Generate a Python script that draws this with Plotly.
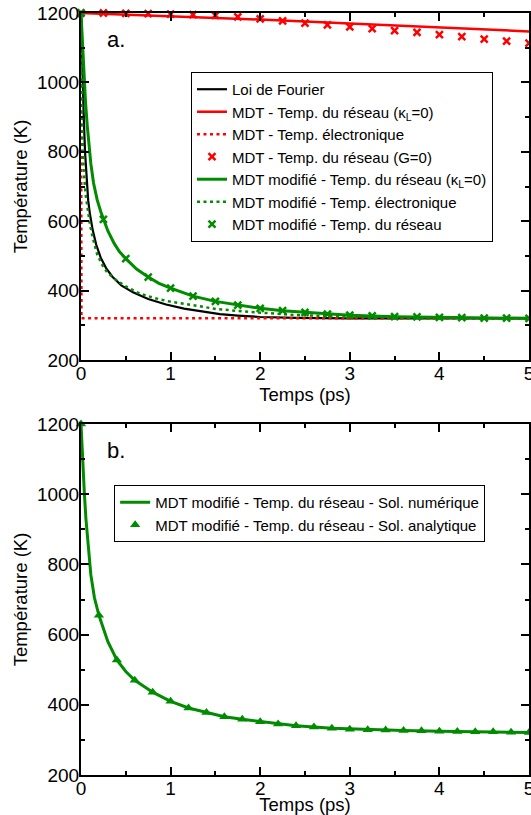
import plotly.graph_objects as go

# ---------------- Panel a data ----------------
t_fourier = [0, 0.01, 0.02, 0.03, 0.045, 0.06, 0.08, 0.1, 0.13, 0.17, 0.22, 0.28, 0.35, 0.45,
             0.58, 0.75, 0.95, 1.15, 1.35, 1.55, 1.75, 2.0, 2.4, 3.0, 4.0, 5.0]
T_fourier = [1200, 1090, 990, 905, 800, 725, 660, 620, 575, 532, 495, 465, 440, 415,
             395, 376, 360, 348, 339, 332, 328, 324, 321.5, 320, 320, 320]

t_mdt_lat = [0, 1, 2, 3, 4, 5]
T_mdt_lat = [1200, 1191, 1181, 1170, 1158, 1147]

t_mdt_el = [0, 0.005, 5]
T_mdt_el = [1200, 320, 320]

t_mark = [0, 0.25, 0.5, 0.75, 1.0, 1.25, 1.5, 1.75, 2.0, 2.25, 2.5, 2.75, 3.0, 3.25, 3.5, 3.75,
          4.0, 4.25, 4.5, 4.75, 5.0]
T_mdt_G0 = [1200, 1200, 1199, 1198, 1197, 1195, 1193, 1189, 1183, 1177, 1171, 1166, 1160, 1155,
            1149, 1144, 1138, 1132, 1125, 1119, 1113]

t_mod_lat = [0, 0.01, 0.02, 0.035, 0.05, 0.07, 0.09, 0.11, 0.14, 0.18, 0.22, 0.25, 0.3, 0.37,
             0.43, 0.5, 0.62, 0.75, 0.87, 1.0, 1.25, 1.5, 1.75, 2.0, 2.25, 2.5, 2.75, 3.0,
             3.5, 4.0, 4.5, 5.0]
T_mod_lat = [1200, 1140, 1085, 1010, 945, 875, 815, 765, 710, 662, 628, 605, 572, 536,
             512, 492, 462, 439, 421, 407, 384, 369, 358, 349, 342, 337, 332, 329,
             325, 323, 321, 320]

t_mod_el = [0, 0.005, 0.012, 0.02, 0.03, 0.05, 0.074, 0.1, 0.13, 0.18, 0.23, 0.29, 0.4, 0.5,
            0.66, 0.8, 0.96, 1.25, 1.51, 1.81, 2.07, 2.37, 2.7, 3.0, 3.5, 4.0, 4.5, 5.0]
T_mod_el = [1200, 1000, 900, 820, 750, 680, 632, 590, 554, 505, 477, 453, 429, 412,
            391, 380, 370, 357, 347, 340, 335, 330, 327, 325, 322, 321, 320, 320]

T_mod_mark = [1200, 605, 492, 439, 407, 384, 369, 358, 349, 342, 337, 332, 329, 327, 325, 324,
              323, 322, 321, 321, 320]

# ---------------- Panel b data ----------------
t_num = [0, 0.01, 0.02, 0.037, 0.055, 0.075, 0.11, 0.15, 0.2, 0.3, 0.4, 0.5, 0.6, 0.8, 1.0,
         1.2, 1.4, 1.6, 1.8, 2.0, 2.4, 2.8, 3.2, 3.6, 4.0, 4.5, 5.0]
T_num = [1200, 1140, 1085, 1005, 930, 862, 770, 705, 655, 580, 528, 495, 470, 436, 410,
         391, 378, 366, 359, 352, 340, 333, 329, 327, 325, 323, 321]

t_ana = [0, 0.2, 0.4, 0.6, 0.8, 1.0, 1.2, 1.4, 1.6, 1.8, 2.0, 2.2, 2.4, 2.6, 2.8, 3.0, 3.2,
         3.4, 3.6, 3.8, 4.0, 4.2, 4.4, 4.6, 4.8, 5.0]
T_ana = [1200, 655, 528, 470, 436, 410, 391, 378, 366, 359, 352, 345, 340, 337, 333, 330, 329,
         328, 327, 326, 325, 324, 323, 323, 322, 321]

RED = "#ff0000"
GREEN = "#008b00"
FONT = "'Liberation Sans', Arial, sans-serif"
DOT = "3px,3.5px"

fig = go.Figure()

# panel a
fig.add_trace(go.Scatter(x=t_fourier, y=T_fourier, mode="lines", name="Loi de Fourier",
                         line=dict(color="black", width=2.2), xaxis="x", yaxis="y", legend="legend"))
fig.add_trace(go.Scatter(x=t_mdt_lat, y=T_mdt_lat, mode="lines",
                         name="MDT - Temp. du réseau (κ<sub>L</sub>=0)",
                         line=dict(color=RED, width=2.5), xaxis="x", yaxis="y", legend="legend"))
fig.add_trace(go.Scatter(x=t_mdt_el, y=T_mdt_el, mode="lines", name="MDT - Temp. électronique",
                         line=dict(color=RED, width=2.5, dash=DOT), xaxis="x", yaxis="y", legend="legend"))
fig.add_trace(go.Scatter(x=t_mark, y=T_mdt_G0, mode="markers", name="MDT - Temp. du réseau (G=0)",
                         marker=dict(symbol="x-thin", size=7, color=RED, line=dict(color=RED, width=2.5)),
                         cliponaxis=False, xaxis="x", yaxis="y", legend="legend"))
fig.add_trace(go.Scatter(x=t_mod_lat, y=T_mod_lat, mode="lines",
                         name="MDT modifié - Temp. du réseau (κ<sub>L</sub>=0)",
                         line=dict(color=GREEN, width=3), xaxis="x", yaxis="y", legend="legend"))
fig.add_trace(go.Scatter(x=t_mod_el, y=T_mod_el, mode="lines", name="MDT modifié - Temp. électronique",
                         line=dict(color=GREEN, width=2.5, dash=DOT), xaxis="x", yaxis="y", legend="legend"))
fig.add_trace(go.Scatter(x=t_mark, y=T_mod_mark, mode="markers", name="MDT modifié - Temp. du réseau",
                         marker=dict(symbol="x-thin", size=7, color=GREEN, line=dict(color=GREEN, width=2.5)),
                         cliponaxis=False, xaxis="x", yaxis="y", legend="legend"))

# panel b
fig.add_trace(go.Scatter(x=t_num, y=T_num, mode="lines",
                         name="MDT modifié - Temp. du réseau - Sol. numérique",
                         line=dict(color=GREEN, width=3), xaxis="x2", yaxis="y2", legend="legend2"))
fig.add_trace(go.Scatter(x=t_ana, y=T_ana, mode="markers",
                         name="MDT modifié - Temp. du réseau - Sol. analytique",
                         marker=dict(symbol="triangle-up", size=9, color=GREEN),
                         cliponaxis=False, xaxis="x2", yaxis="y2", legend="legend2"))

common_x = dict(range=[0, 5], dtick=1, tick0=0, ticks="inside", ticklen=8, tickwidth=1.5,
                tickcolor="black", showline=True, linecolor="black", linewidth=2, mirror="ticks",
                showgrid=False, zeroline=False, automargin=False,
                ticklabeloverflow="allow", ticklabelstandoff=-5,
                tickfont=dict(family=FONT, size=19, color="black"),
                minor=dict(dtick=0.5, ticks="inside", ticklen=4, tickwidth=1.5, tickcolor="black",
                           showgrid=False),
                title=dict(text="Temps (ps)", font=dict(family=FONT, size=18.5, color="black"),
                           standoff=3))
common_y = dict(range=[200, 1200], dtick=200, tick0=200, ticks="inside", ticklen=8, tickwidth=1.5,
                tickcolor="black", showline=True, linecolor="black", linewidth=2, mirror="ticks",
                showgrid=False, zeroline=False, automargin=False,
                ticklabeloverflow="allow", ticklabelstandoff=-4,
                tickfont=dict(family=FONT, size=19, color="black"),
                minor=dict(dtick=100, ticks="inside", ticklen=4, tickwidth=1.5, tickcolor="black",
                           showgrid=False),
                title=dict(text="Température (K)", font=dict(family=FONT, size=18.5, color="black"),
                           standoff=4))

legend_style = dict(bgcolor="white", bordercolor="black", borderwidth=1,
                    font=dict(family=FONT, size=15, color="black"),
                    xanchor="left", yanchor="top", itemwidth=30, tracegroupgap=0)

fig.update_layout(
    width=531, height=815,
    margin=dict(l=81, r=2, t=13, b=40, pad=0, autoexpand=False),
    paper_bgcolor="white", plot_bgcolor="white",
    font=dict(family=FONT, color="black"),
    xaxis=dict(domain=[0, 1], anchor="y", **common_x),
    yaxis=dict(domain=[0.5446, 1], anchor="x", **common_y),
    xaxis2=dict(domain=[0, 1], anchor="y2", **common_x),
    yaxis2=dict(domain=[0, 0.4606], anchor="x2", **common_y),
    legend=dict(x=0.2455, y=0.9226, **legend_style),
    legend2=dict(x=0.074, y=0.3806, **legend_style),
    showlegend=True,
    annotations=[
        dict(text="a.", x=0.27, y=1125, xref="x", yref="y", xanchor="left", yanchor="middle",
             showarrow=False, font=dict(family=FONT, size=22, color="black")),
        dict(text="b.", x=0.27, y=1125, xref="x2", yref="y2", xanchor="left", yanchor="middle",
             showarrow=False, font=dict(family=FONT, size=22, color="black")),
    ],
)

fig.write_html("out.html", config={"displayModeBar": False},
               post_script="document.body.style.margin='0';document.body.style.overflow='hidden';")
